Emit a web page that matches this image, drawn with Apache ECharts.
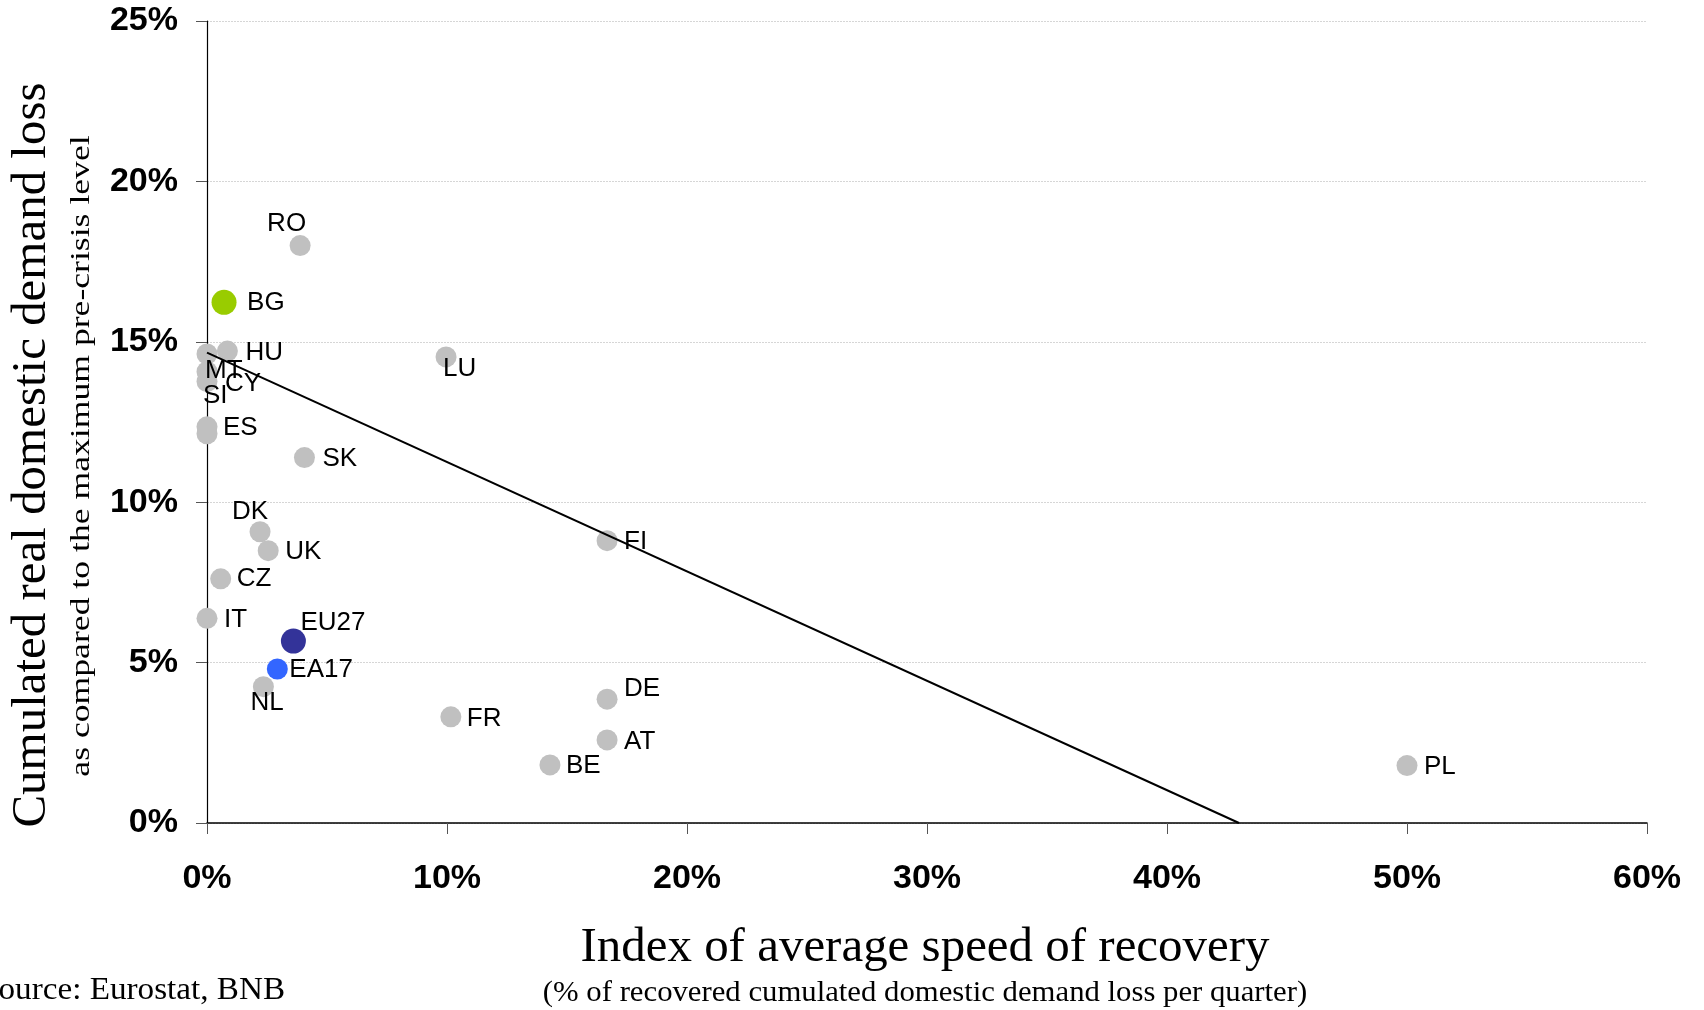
<!DOCTYPE html>
<html>
<head>
<meta charset="utf-8">
<script src="https://cdn.jsdelivr.net/npm/echarts@6/dist/echarts.min.js"></script>
<style>
  html, body { margin: 0; padding: 0; background: #ffffff; }
  #chart { width: 1704px; height: 1010px; }
</style>
</head>
<body>
<div id="chart"></div>
<script>
// ---- data ----
const countries      = ['RO', 'BG', 'HU', 'MT', 'CY', 'SI', 'ES', '', 'SK', 'LU', 'DK', 'UK', 'CZ', 'IT', 'EU27', 'EA17', 'NL', 'FR', 'FI', 'DE', 'AT', 'BE', 'PL'];
const recoverySpeed  = [3.88, 0.71, 0.85, 0, 0, 0, 0, 0, 4.06, 9.96, 2.21, 2.55, 0.57, 0, 3.60, 2.93, 2.35, 10.16, 16.67, 16.67, 16.67, 14.29, 50.0];
const demandLoss     = [18.0, 16.23, 14.71, 14.62, 14.07, 13.76, 12.35, 12.13, 11.39, 14.53, 9.08, 8.49, 7.61, 6.38, 5.67, 4.80, 4.25, 3.31, 8.80, 3.86, 2.59, 1.81, 1.79];
const trendX         = [0, 43.0];
const trendY         = [14.66, 0];
const xTickValues    = [0, 10, 20, 30, 40, 50, 60];
const yTickValues    = [0, 5, 10, 15, 20, 25];

// ---- layout / style (not data) ----
const highlight = {
  BG:   { color: '#99cc00', size: 25 },
  EU27: { color: '#333399', size: 25 },
  EA17: { color: '#3366ff', size: 21 }
};
const labelOffsets = {
  RO: [-33, -22], BG: [23, 0], HU: [18, 2], MT: [-2, 17], CY: [18, 12], SI: [-4, 14],
  ES: [16, 1], SK: [18, 1], LU: [-3, 12], DK: [-28, -20], UK: [17, 1], CZ: [16, 0],
  IT: [17, 1], EU27: [7, -18], EA17: [12, 1], NL: [-13, 16], FR: [16, 2], FI: [17, 1],
  DE: [17, -10], AT: [17, 2], BE: [16, 1], PL: [17, 1]
};

const grayPts = [], hiPts = [];
countries.forEach((c, i) => {
  const item = {
    name: c,
    value: [recoverySpeed[i], demandLoss[i]],
    label: { show: c !== '', offset: labelOffsets[c] || [16, 0] }
  };
  if (highlight[c]) {
    item.symbolSize = highlight[c].size;
    item.itemStyle = { color: highlight[c].color, opacity: 1 };
    hiPts.push(item);
  } else {
    grayPts.push(item);
  }
});

const labelStyle = {
  show: true,
  formatter: '{b}',
  position: 'inside',
  align: 'left',
  verticalAlign: 'middle',
  color: '#000000',
  fontSize: 26,
  fontFamily: 'Liberation Sans, Arial, sans-serif'
};

const chart = echarts.init(document.getElementById('chart'), null, { renderer: 'canvas' });
chart.setOption({
  animation: false,
  backgroundColor: '#ffffff',
  grid: { left: 207, right: 57, top: 21, bottom: 187, containLabel: false },
  xAxis: {
    type: 'value',
    min: xTickValues[0],
    max: xTickValues[xTickValues.length - 1],
    interval: 10,
    axisLine: { show: true, onZero: false, lineStyle: { color: '#000000', width: 1.5 } },
    axisTick: { show: true, length: 11, inside: false, lineStyle: { color: '#555555', width: 1 } },
    splitLine: { show: false },
    axisLabel: {
      margin: 39,
      formatter: v => v + '%',
      color: '#000000',
      fontSize: 34,
      fontWeight: 'bold',
      fontFamily: 'Liberation Sans, Arial, sans-serif'
    }
  },
  yAxis: {
    type: 'value',
    min: yTickValues[0],
    max: yTickValues[yTickValues.length - 1],
    interval: 5,
    axisLine: { show: true, onZero: false, lineStyle: { color: '#000000', width: 1.2 } },
    axisTick: { show: true, length: 11, inside: false, lineStyle: { color: '#555555', width: 1 } },
    splitLine: { show: true, lineStyle: { color: '#d6d6d6', width: 1, type: [2, 1] } },
    axisLabel: {
      margin: 29,
      formatter: v => v + '%',
      color: '#000000',
      fontSize: 34,
      fontWeight: 'bold',
      fontFamily: 'Liberation Sans, Arial, sans-serif'
    }
  },
  series: [
    {
      type: 'scatter',
      data: grayPts,
      symbol: 'circle',
      symbolSize: 21,
      itemStyle: { color: '#c0c0c0', opacity: 1 },
      label: labelStyle,
      z: 2
    },
    {
      type: 'scatter',
      data: hiPts,
      symbol: 'circle',
      itemStyle: { opacity: 1 },
      label: labelStyle,
      z: 3
    },
    {
      type: 'line',
      data: trendX.map((x, i) => [x, trendY[i]]),
      showSymbol: false,
      symbol: 'none',
      lineStyle: { color: '#000000', width: 2 },
      z: 4,
      silent: true
    }
  ],
  graphic: [
    {
      type: 'text',
      x: 32, y: 455,
      rotation: Math.PI / 2,
      scaleX: 1.02,
      style: {
        text: 'Cumulated real domestic demand loss',
        font: '48px "Liberation Serif", "Times New Roman", serif',
        fill: '#000000',
        textAlign: 'center',
        textVerticalAlign: 'middle'
      }
    },
    {
      type: 'text',
      x: 82, y: 456,
      rotation: Math.PI / 2,
      scaleX: 1.32,
      style: {
        text: 'as compared to the maximum pre-crisis level',
        font: '27px "Liberation Serif", "Times New Roman", serif',
        fill: '#000000',
        textAlign: 'center',
        textVerticalAlign: 'middle'
      }
    },
    {
      type: 'text',
      x: 925, y: 948,
      scaleX: 1.02,
      style: {
        text: 'Index of average speed of recovery',
        font: '48px "Liberation Serif", "Times New Roman", serif',
        fill: '#000000',
        textAlign: 'center',
        textVerticalAlign: 'middle'
      }
    },
    {
      type: 'text',
      x: 925, y: 993,
      scaleX: 1.024,
      style: {
        text: '(% of recovered cumulated domestic demand loss per quarter)',
        font: '30px "Liberation Serif", "Times New Roman", serif',
        fill: '#000000',
        textAlign: 'center',
        textVerticalAlign: 'middle'
      }
    },
    {
      type: 'text',
      x: 285, y: 991,
      scaleX: 1.07,
      style: {
        text: 'Source: Eurostat, BNB',
        font: '31px "Liberation Serif", "Times New Roman", serif',
        fill: '#000000',
        textAlign: 'right',
        textVerticalAlign: 'middle'
      }
    }
  ]
});
</script>
</body>
</html>
